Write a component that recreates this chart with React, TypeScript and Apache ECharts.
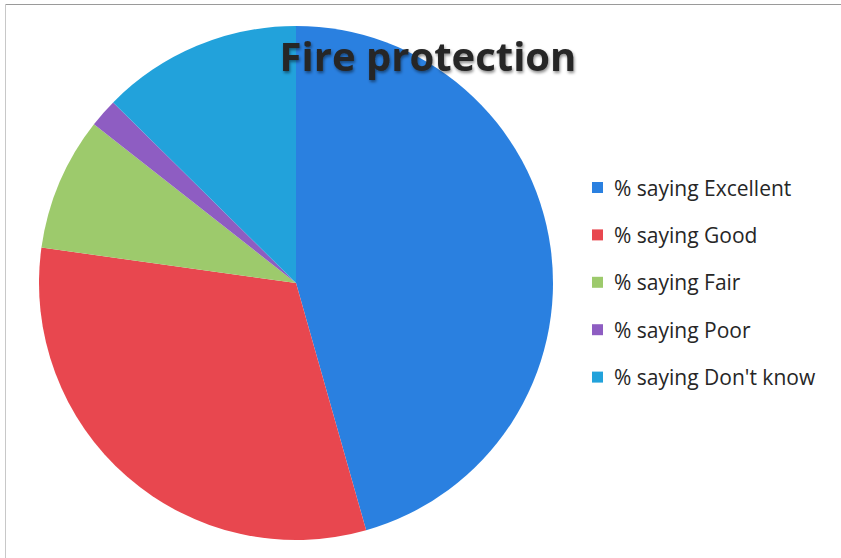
import React, { useEffect, useRef } from "react";
import * as echarts from "echarts";

const categories = [
  "% saying Excellent",
  "% saying Good",
  "% saying Fair",
  "% saying Poor",
  "% saying Don't know",
];
const values = [45.6, 31.6, 8.4, 1.8, 12.6];
const colors = ["#2A80E0", "#E8474F", "#9DCA6C", "#8E5DC2", "#22A2DB"];
const titleText = "Fire protection";

export default function App() {
  const ref = useRef<HTMLDivElement>(null);
  useEffect(() => {
    if (!ref.current) return;
    const chart = echarts.init(ref.current, null, { renderer: "svg" });
    chart.setOption({
      animation: false,
      backgroundColor: "#ffffff",
      graphic: [
        {
          type: "line",
          shape: { x1: 5, y1: 4.5, x2: 841, y2: 4.5 },
          style: { stroke: "#9a9a9a", lineWidth: 1 },
        },
        {
          type: "line",
          shape: { x1: 5.5, y1: 4, x2: 5.5, y2: 558 },
          style: { stroke: "#c8c8c8", lineWidth: 1 },
        },
      ],
      title: {
        text: titleText,
        left: 428,
        textAlign: "center",
        top: 35,
        padding: 0,
        textStyle: {
          fontFamily: "Open Sans",
          fontWeight: "bold",
          fontSize: 40,
          color: "#262626",
          textShadowColor: "rgba(0,0,0,0.45)",
          textShadowBlur: 3,
          textShadowOffsetX: 1,
          textShadowOffsetY: 2,
        },
        z: 10,
      },
      legend: {
        orient: "vertical",
        left: 592,
        top: 177,
        padding: 0,
        itemWidth: 11,
        itemHeight: 11,
        itemGap: 26.4,
        icon: "rect",
        data: categories,
        textStyle: {
          fontFamily: "Open Sans",
          fontSize: 21,
          lineHeight: 20,
          color: "#262626",
          padding: [0, 0, 0, 6],
        },
      },
      series: [
        {
          type: "pie",
          center: [296, 283],
          radius: [0, 257],
          startAngle: 90,
          clockwise: true,
          label: { show: false },
          labelLine: { show: false },
          itemStyle: { borderWidth: 0 },
          z: 1,
          data: categories.map((c, i) => ({
            name: c,
            value: values[i],
            itemStyle: { color: colors[i] },
          })),
        },
      ],
    });
    return () => chart.dispose();
  }, []);
  return (
    <div
      ref={ref}
      style={{ position: "absolute", left: 0, top: 0, width: 841, height: 558 }}
    />
  );
}
